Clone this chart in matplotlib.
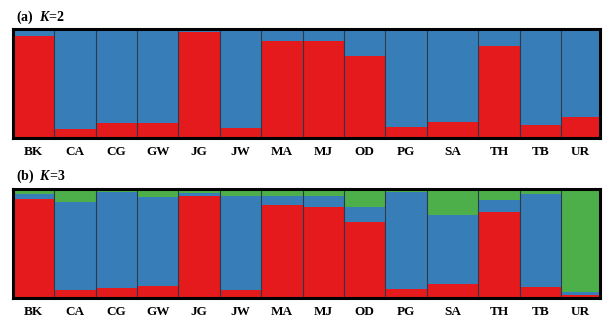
import matplotlib
matplotlib.use("Agg")
import matplotlib.pyplot as plt
import numpy as np

pops = ["BK", "CA", "CG", "GW", "JG", "JW", "MA", "MJ", "OD", "PG", "SA", "TH", "TB", "UR"]
n_ind = [16, 16, 16, 16, 16, 16, 16, 16, 16, 16, 20, 16, 16, 15]

# K=2 ancestry proportions (cluster 1 = red, cluster 2 = blue)
k2_red = [0.94, 0.084, 0.134, 0.14, 0.97, 0.09, 0.89, 0.89, 0.756, 0.097, 0.144, 0.84, 0.116, 0.19]

# K=3 ancestry proportions
k3_red = [0.904, 0.071, 0.096, 0.109, 0.935, 0.071, 0.851, 0.839, 0.693, 0.081, 0.127, 0.786, 0.099, 0.025]
k3_blue = [0.047, 0.807, 0.876, 0.82, 0.025, 0.866, 0.084, 0.099, 0.146, 0.888, 0.634, 0.109, 0.854, 0.031]

RED, BLUE, GREEN = "#e41a1c", "#377eb8", "#4daf4a"
EDGE = "#2b3a4a"

plt.rcParams["font.family"] = ["Liberation Serif", "DejaVu Serif"]
plt.rcParams["mathtext.fontset"] = "custom"
plt.rcParams["mathtext.it"] = "Liberation Serif:italic:bold"
plt.rcParams["mathtext.rm"] = "Liberation Serif:bold"

fig = plt.figure(figsize=(6.05, 3.2), dpi=100)
W, H = 605, 320

def add_ax(top, bottom):
    return fig.add_axes([13 / W, 1 - bottom / H, 587 / W, (bottom - top) / H])

ax_a = add_ax(29, 138)
ax_b = add_ax(189, 298)

widths = np.array(n_ind, dtype=float)
lefts = np.concatenate([[0], np.cumsum(widths)[:-1]])
centers = lefts + widths / 2

def draw(ax, layers):
    bottom = np.zeros(len(pops))
    for vals, col in layers:
        vals = np.array(vals)
        ax.bar(lefts, vals, width=widths, bottom=bottom, align="edge",
               color=col, edgecolor="none", zorder=2)
        bottom = bottom + vals
    for x in lefts[1:]:
        ax.axvline(x, color=EDGE, lw=0.8, zorder=3)
    ax.set_xlim(0, widths.sum())
    ax.set_ylim(0, 1)
    ax.set_yticks([])
    ax.set_xticks(centers)
    ax.set_xticklabels(pops, fontsize=9.5, fontweight="bold")
    ax.tick_params(axis="x", length=0, pad=6)
    for s in ax.spines.values():
        s.set_linewidth(2.2)
        s.set_color("black")
        s.set_zorder(5)

k2_blue = [1 - r for r in k2_red]
draw(ax_a, [(k2_red, RED), (k2_blue, BLUE)])

k3_green = [1 - r - b for r, b in zip(k3_red, k3_blue)]
draw(ax_b, [(k3_red, RED), (k3_blue, BLUE), (k3_green, GREEN)])

fig.text(16 / W, 1 - 17 / H, r"(a)  $K$=2", fontsize=10, fontweight="bold", va="center")
fig.text(16 / W, 1 - 176 / H, r"(b)  $K$=3", fontsize=10, fontweight="bold", va="center")

fig.savefig("out.png", dpi=100)
